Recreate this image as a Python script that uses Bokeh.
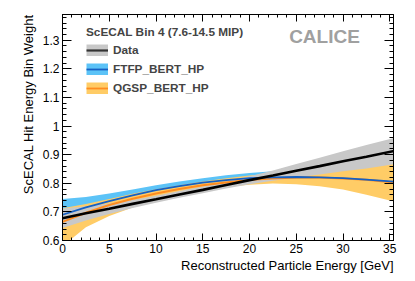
import numpy as np
from bokeh.plotting import figure
from bokeh.models import (LinearAxis, SingleIntervalTicker, CustomJSTickFormatter,
                          CustomLabelingPolicy, Legend, LegendItem, Label, Range1d, Title)
from bokeh.embed import file_html
from bokeh.resources import INLINE

# ---------------- data ----------------
energy    = [0, 2.5, 5, 7.5, 10, 12.5, 15, 17.5, 20, 22.5, 25, 27.5, 30, 32.5, 35.5]

data_mean = [0.678, 0.695, 0.711, 0.728, 0.744, 0.761, 0.777, 0.794, 0.811, 0.827, 0.844, 0.860, 0.877, 0.893, 0.913]
data_err  = [0.034, 0.025, 0.018, 0.014, 0.012, 0.012, 0.012, 0.012, 0.014, 0.018, 0.023, 0.029, 0.035, 0.041, 0.046]

ftfp_mean = [0.690, 0.716, 0.738, 0.758, 0.776, 0.790, 0.802, 0.811, 0.818, 0.821, 0.822, 0.821, 0.818, 0.813, 0.806]
ftfp_lo   = [0.640, 0.650, 0.690, 0.719, 0.744, 0.764, 0.779, 0.791, 0.799, 0.803, 0.801, 0.794, 0.782, 0.764, 0.740]
ftfp_hi   = [0.745, 0.752, 0.764, 0.778, 0.793, 0.806, 0.818, 0.828, 0.836, 0.842, 0.847, 0.851, 0.857, 0.863, 0.872]

qgsp_mean = [0.665, 0.697, 0.724, 0.746, 0.764, 0.780, 0.793, 0.803, 0.812, 0.817, 0.820, 0.820, 0.817, 0.812, 0.803]
qgsp_lo   = [0.580, 0.646, 0.686, 0.715, 0.740, 0.760, 0.775, 0.787, 0.795, 0.799, 0.797, 0.790, 0.778, 0.760, 0.736]
qgsp_hi   = [0.713, 0.728, 0.745, 0.763, 0.779, 0.793, 0.806, 0.818, 0.827, 0.834, 0.840, 0.846, 0.853, 0.860, 0.869]

x_tick_interval = 5
y_tick_interval = 0.1

legend_title = "ScECAL Bin 4 (7.6-14.5 MIP)"
labels = ["Data", "FTFP_BERT_HP", "QGSP_BERT_HP"]
xlab = "Reconstructed Particle Energy [GeV]"
ylab = "ScECAL Hit Energy Bin Weight"

# ---------------- styles ----------------
FONT = "Liberation Sans"
gray_band = "#c8c8c8"
blue_band = "#5cc3f7"
orange_band = "#ffcc66"
blue_line = "#1560c4"
orange_line = "#ff8c1f"

data_lo = np.array(data_mean) - np.array(data_err)
data_hi = np.array(data_mean) + np.array(data_err)

p = figure(width=408, height=277, x_range=Range1d(0, 35.4), y_range=Range1d(0.6, 1.39),
           output_backend="svg", toolbar_location=None,
           min_border_left=62, min_border_right=15, min_border_top=14, min_border_bottom=37)
p.grid.visible = False
p.outline_line_color = "black"
p.background_fill_color = "white"
p.border_fill_color = "white"

bottom_ax = p.below[0]
left_ax = p.left[0]

bottom_ax.ticker = SingleIntervalTicker(interval=x_tick_interval, num_minor_ticks=5)
left_ax.ticker = SingleIntervalTicker(interval=y_tick_interval, num_minor_ticks=5)
left_ax.formatter = CustomJSTickFormatter(
    code="var s = tick.toFixed(1); return s.endsWith('.0') ? s.slice(0, -2) : s;")

hide_all = CustomLabelingPolicy(code="for (const i of indices) { indices.unset(i) }")


def style_axis(ax, major, minor, show_labels=True):
    ax.major_tick_in = major
    ax.major_tick_out = 0
    ax.minor_tick_in = minor
    ax.minor_tick_out = 0
    ax.axis_line_color = "black"
    ax.major_tick_line_color = "black"
    ax.minor_tick_line_color = "black"
    ax.major_label_text_font = FONT
    ax.major_label_text_color = "black"
    if show_labels:
        ax.major_label_text_font_size = "12px"
        ax.major_label_standoff = 3
    else:
        ax.major_label_text_font_size = "1px"
        ax.major_label_standoff = 0
        ax.major_label_policy = hide_all


style_axis(bottom_ax, 7, 3)
style_axis(left_ax, 9, 4)

top_ax = LinearAxis(ticker=SingleIntervalTicker(interval=x_tick_interval, num_minor_ticks=5))
style_axis(top_ax, 7, 3, show_labels=False)
p.add_layout(top_ax, "above")
right_ax = LinearAxis(ticker=SingleIntervalTicker(interval=y_tick_interval, num_minor_ticks=5))
style_axis(right_ax, 9, 4, show_labels=False)
p.add_layout(right_ax, "right")

# axis titles, right-aligned to the frame ends (ROOT style)
p.add_layout(Title(text=xlab, align="right", text_font=FONT, text_font_style="normal",
                   text_font_size="13px", text_color="black", standoff=0), "below")
p.add_layout(Title(text=ylab, align="right", text_font=FONT, text_font_style="normal",
                   text_font_size="13px", text_color="black", standoff=7), "left")

# bands
p.varea(x=energy, y1=ftfp_lo, y2=ftfp_hi, fill_color=blue_band)
p.varea(x=energy, y1=qgsp_lo, y2=qgsp_hi, fill_color=orange_band)
p.varea(x=energy, y1=data_lo, y2=data_hi, fill_color=gray_band)
# lines
p.line(x=energy, y=qgsp_mean, line_color=orange_line, line_width=2)
p.line(x=energy, y=ftfp_mean, line_color=blue_line, line_width=1.8)
p.line(x=energy, y=data_mean, line_color="black", line_width=2.6)


# legend proxies (hidden renderers, only used to draw the legend swatches)
def proxy(ys, color, width):
    return p.line(x=energy, y=ys, line_color=color, line_width=width, visible=False)


items = [
    LegendItem(label=labels[0], renderers=[proxy(data_mean, gray_band, 12),
                                           proxy(data_mean, "#333333", 2.2)]),
    LegendItem(label=labels[1], renderers=[proxy(ftfp_mean, blue_band, 12),
                                           proxy(ftfp_mean, blue_line, 1.8)]),
    LegendItem(label=labels[2], renderers=[proxy(qgsp_mean, orange_band, 12),
                                           proxy(qgsp_mean, orange_line, 1.8)]),
]
legend = Legend(items=items, location=(24, 145), title=legend_title,
                title_text_font=FONT, title_text_font_style="bold", title_text_font_size="11.8px",
                title_standoff=4, label_text_font=FONT, label_text_font_style="bold",
                label_text_font_size="11.8px", glyph_width=22, glyph_height=12, label_height=13,
                label_standoff=5, spacing=5, padding=0, margin=0,
                background_fill_alpha=0, border_line_alpha=0,
                inactive_fill_alpha=0)
p.add_layout(legend)

p.add_layout(Label(x=262, y=204, x_units="screen", y_units="screen", text="CALICE",
                   text_font=FONT, text_font_style="bold", text_font_size="19px",
                   text_color="#a0a0a0", text_align="center", text_baseline="middle"))

open("out.html", "w").write(file_html(p, INLINE))
